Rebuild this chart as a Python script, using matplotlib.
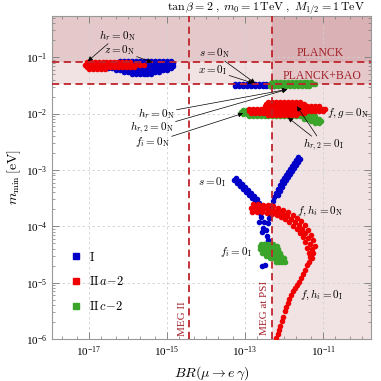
import numpy as np
import matplotlib
matplotlib.use('Agg')
import matplotlib.pyplot as plt
from matplotlib.lines import Line2D
from matplotlib.ticker import LogLocator, NullFormatter

plt.rcParams['mathtext.fontset'] = 'cm'
plt.rcParams['font.family'] = 'Liberation Serif'

# every value is log10(BR) or log10(m_min / eV)
# horizontal bands are stored as rows: one m_min value and the BR values along it

# model I (blue)
I_top_y = [-1.07, -1.11, -1.15, -1.19, -1.23, -1.27, -1.30]
I_top_x = [
    [-16.2, -16.1, -16.0, -15.9, -15.8, -15.7, -15.6, -15.5, -15.4, -15.3, -15.2, -15.1, -15.0, -14.9],
    [-16.6, -16.5, -16.4, -16.3, -16.2, -16.1, -16.0, -15.9, -15.8, -15.7, -15.6, -15.5, -15.4, -15.3,
     -15.2, -15.1, -15.0, -14.9, -14.85],
    [-16.7, -16.6, -16.5, -16.4, -16.3, -16.2, -16.1, -16.0, -15.9, -15.8, -15.7, -15.6, -15.5, -15.4,
     -15.3, -15.2, -15.1, -15.0, -14.9, -14.85],
    [-16.5, -16.4, -16.3, -16.2, -16.1, -16.0, -15.9, -15.8, -15.7, -15.6, -15.5, -15.4, -15.3, -15.2,
     -15.1, -15.0, -14.9],
    [-16.3, -16.2, -16.1, -16.0, -15.9, -15.8, -15.7, -15.6, -15.5, -15.4, -15.3, -15.2, -15.1, -15.0],
    [-16.1, -16.0, -15.9, -15.8, -15.7, -15.6, -15.5, -15.4, -15.3, -15.2],
    [-15.9, -15.8, -15.7, -15.6, -15.5, -15.4],
]
I_bao_y = [-1.48, -1.51]
I_bao_x = [
    [-13.25, -13.15, -13.05, -12.95, -12.85, -12.75, -12.65, -12.55, -12.45, -12.35, -12.25, -12.2],
    [-13.25, -13.15, -13.05, -12.95, -12.85, -12.75, -12.65, -12.55, -12.45, -12.35, -12.25],
]
# blue branches below 1e-3 eV (s = 0_I and the right arm)
I_arm_x = [-13.28, -13.21, -13.13, -13.05, -12.97, -12.90, -12.82, -12.74, -12.69, -12.67, -12.62, -12.59,
           -13.23, -13.15, -13.08, -13.00, -12.92, -12.85, -12.77, -12.69, -12.64, -12.59,
           -12.64, -12.51, -12.54, -12.46, -12.56, -12.44, -12.41, -12.49, -12.41, -12.46, -12.49, -12.56,
           -11.64, -11.69, -11.74, -11.79, -11.85, -11.90, -11.95, -12.00, -12.05, -12.10, -12.15, -12.21,
           -12.26, -12.28, -12.31, -12.33, -12.36, -12.38, -12.41,
           -11.59, -11.64, -11.69, -11.74, -11.79, -11.85, -11.90, -11.95, -12.00, -12.05, -12.10, -12.15]
I_arm_y = [-3.185, -3.238, -3.291, -3.345, -3.398, -3.451, -3.504, -3.558, -3.629, -3.700, -3.771, -3.842,
           -3.149, -3.203, -3.256, -3.309, -3.362, -3.416, -3.469, -3.522, -3.593, -3.664,
           -3.931, -3.931, -4.037, -4.073, -4.108, -4.179, -4.250, -4.304, -4.410, -4.460, -4.694, -4.712,
           -2.776, -2.829, -2.883, -2.936, -2.989, -3.043, -3.096, -3.149, -3.203, -3.274, -3.345, -3.416,
           -3.487, -3.558, -3.629, -3.700, -3.771, -3.860, -3.948,
           -2.812, -2.865, -2.918, -2.972, -3.025, -3.078, -3.131, -3.185, -3.238, -3.309, -3.380, -3.451]

# model II c-2 (green)
IIc_bao_y = [-1.44, -1.475, -1.51]
IIc_bao_x = [
    [-12.3, -12.2, -12.1, -12.0, -11.9, -11.8, -11.7, -11.6, -11.5, -11.4, -11.3],
    [-12.35, -12.25, -12.15, -12.05, -11.95, -11.85, -11.75, -11.65, -11.55, -11.45, -11.35, -11.25, -11.2],
    [-12.35, -12.25, -12.15, -12.05, -11.95, -11.85, -11.75, -11.65, -11.55, -11.45, -11.35],
]
IIc_band_y = [-1.93, -1.97, -2.01, -2.05, -2.09, -2.13, -2.17]
IIc_band_x = [
    [-13.05, -12.95, -12.85, -12.75, -12.65, -12.55, -12.45, -12.35, -12.25, -12.15, -12.05, -11.95,
     -11.85, -11.75, -11.65, -11.55, -11.45, -11.4],
    [-13.1, -13.0, -12.9, -12.8, -12.7, -12.6, -12.5, -12.4, -12.3, -12.2, -12.1, -12.0, -11.9, -11.8,
     -11.7, -11.6, -11.5, -11.4, -11.3],
    [-13.05, -12.95, -12.85, -12.75, -12.65, -12.55, -12.45, -12.35, -12.25, -12.15, -12.05, -11.95,
     -11.85, -11.75, -11.65, -11.55, -11.45, -11.35, -11.3],
    [-12.9, -12.8, -12.7, -12.6, -12.5, -12.4, -12.3, -12.2, -12.1, -12.0, -11.9, -11.8, -11.7, -11.6,
     -11.5, -11.4, -11.3, -11.2],
    [-11.5, -11.4, -11.3, -11.2, -11.1],
    [-11.3, -11.2, -11.1, -11.05],
    [-11.2, -11.1],
]
IIc_blob_y = [-4.304, -4.357, -4.410, -4.464, -4.517, -4.570, -4.624]
IIc_blob_x = [
    [-12.59, -12.51, -12.44, -12.36, -12.28],
    [-12.62, -12.54, -12.46, -12.38, -12.31, -12.23, -12.18],
    [-12.62, -12.54, -12.46, -12.38, -12.31, -12.23, -12.15],
    [-12.56, -12.49, -12.41, -12.33, -12.26, -12.18, -12.10],
    [-12.46, -12.38, -12.31, -12.23, -12.15, -12.08],
    [-12.36, -12.28, -12.21, -12.13, -12.05, -12.00],
    [-12.21, -12.13, -12.05, -11.97],
]

# model II a-2 (red)
IIa_top_y = [-1.09, -1.13, -1.17, -1.20]
IIa_top_x = [
    [-17.05, -16.95, -16.85, -16.75, -16.65, -16.55, -16.45, -16.35, -16.25, -16.15, -16.05, -15.95],
    [-17.1, -17.0, -16.9, -16.8, -16.7, -16.6, -16.5, -16.4, -16.3, -16.2, -16.1, -16.0, -15.9, -15.8,
     -15.7, -15.6],
    [-17.05, -16.95, -16.85, -16.75, -16.65, -16.55, -16.45, -16.35, -16.25, -16.15, -16.05, -15.95, -15.85],
    [-17.0, -16.9, -16.8, -16.7, -16.6],
]
IIa_band_y = [-1.79, -1.83, -1.87, -1.91, -1.95, -1.99, -2.02]
IIa_band_x = [
    [-12.4, -12.3, -12.2, -12.1, -12.0, -11.9, -11.8, -11.7, -11.6],
    [-12.45, -12.35, -12.25, -12.15, -12.05, -11.95, -11.85, -11.75, -11.65, -11.55, -11.5],
    [-12.5, -12.4, -12.3, -12.2, -12.1, -12.0, -11.9, -11.8, -11.7, -11.6, -11.5, -11.4, -11.3, -11.2,
     -11.1],
    [-12.9, -12.8, -12.7, -12.6, -12.5, -12.4, -12.3, -12.2, -12.1, -12.0, -11.9, -11.8, -11.7, -11.6,
     -11.5, -11.4, -11.3, -11.2, -11.1, -11.0, -10.95],
    [-12.9, -12.8, -12.7, -12.6, -12.5, -12.4, -12.3, -12.2, -12.1, -12.0, -11.9, -11.8, -11.7, -11.6,
     -11.5, -11.4, -11.3, -11.2, -11.1, -11.0],
    [-12.85, -12.75, -12.65, -12.55, -12.45, -12.35, -12.25, -12.15, -12.05, -11.95, -11.85, -11.75,
     -11.65, -11.55, -11.5],
    [-12.4, -12.3, -12.2, -12.1, -12.0, -11.9, -11.8, -11.7],
]
# f, h_i = 0 arc: upper thick part and lower thin tail
IIa_arc_x = [-12.85, -12.74, -12.64, -12.54, -12.44, -12.33, -12.23, -12.13, -12.03, -11.92, -11.82,
             -11.72, -11.62, -11.54, -11.46, -11.38, -11.33, -11.28, -11.26, -11.28,
             -12.79, -12.67, -12.54, -12.41, -12.28, -12.15, -12.03, -11.90, -11.77, -11.67, -11.56,
             -11.46, -11.38, -11.31, -11.26, -11.21,
             -12.82, -12.69, -12.56, -12.44, -12.31, -12.18, -12.08, -11.97, -11.87, -11.77, -11.67,
             -11.59, -11.51, -11.46, -11.41, -11.36, -11.33,
             -11.31, -11.36, -11.41, -11.46, -11.51, -11.56, -11.62, -11.67, -11.72, -11.77, -11.82,
             -11.87, -11.90, -11.95, -11.97, -12.03, -12.05, -12.10, -12.13, -12.15, -12.21]
IIa_arc_y = [-3.682, -3.682, -3.682, -3.682, -3.700, -3.718, -3.735, -3.753, -3.789, -3.824, -3.877,
             -3.931, -3.984, -4.055, -4.126, -4.215, -4.304, -4.393, -4.481, -4.570,
             -3.611, -3.611, -3.620, -3.629, -3.647, -3.673, -3.709, -3.753, -3.806, -3.860, -3.913,
             -3.984, -4.073, -4.162, -4.250, -4.357,
             -3.753, -3.753, -3.753, -3.771, -3.789, -3.806, -3.842, -3.877, -3.931, -4.002, -4.055,
             -4.126, -4.197, -4.286, -4.375, -4.464, -4.535,
             -4.570, -4.641, -4.694, -4.766, -4.837, -4.908, -4.979, -5.032, -5.085, -5.139, -5.210,
             -5.281, -5.352, -5.423, -5.494, -5.600, -5.671, -5.760, -5.831, -5.902, -5.973]

planck = 0.083
planck_bao = 0.034
meg_psi = 4.9e-13
meg_2 = 3.6e-15


def flatten(rows_y, rows_x):
    xs, ys = [], []
    for y, row in zip(rows_y, rows_x):
        xs += row
        ys += [y] * len(row)
    return xs, ys


fig = plt.figure(figsize=(3.81, 3.81), dpi=100)
ax = fig.add_axes([0.136, 0.110, 0.838, 0.848])
xmin, xmax = 10**-17.95, 10**-9.77
ymin, ymax = 1e-6, 0.54

shade = (0.59, 0.12, 0.16)
ax.fill_between([xmin, xmax], planck_bao, ymax, color=shade, alpha=0.13, lw=0, zorder=0)
ax.fill_between([xmin, xmax], planck, ymax, color=shade, alpha=0.13, lw=0, zorder=0)
ax.fill_between([meg_psi, xmax], ymin, ymax, color=shade, alpha=0.13, lw=0, zorder=0)

cols = {'I': '#0000c8', 'IIa': '#f00000', 'IIc': '#3aa52a'}
groups = [
    ('I', [flatten(I_top_y, I_top_x), flatten(I_bao_y, I_bao_x), (I_arm_x, I_arm_y)]),
    ('IIc', [flatten(IIc_bao_y, IIc_bao_x), flatten(IIc_band_y, IIc_band_x), flatten(IIc_blob_y, IIc_blob_x)]),
    ('IIa', [flatten(IIa_top_y, IIa_top_x), flatten(IIa_band_y, IIa_band_x), (IIa_arc_x, IIa_arc_y)]),
]
for key, parts in groups:
    for xs, ys in parts:
        ax.scatter(10**np.array(xs), 10**np.array(ys), s=16, color=cols[key], lw=0, zorder=3)

lc = '#c0232b'
for yv in (planck, planck_bao):
    ax.axhline(yv, color=lc, ls=(0, (4, 2.5)), lw=1.3, zorder=4)
for xv in (meg_psi, meg_2):
    ax.axvline(xv, color=lc, ls=(0, (4, 2.5)), lw=1.3, zorder=4)

tc = '#a3222b'
ax.text(10**-11.08, 10**-0.93, 'PLANCK', color=tc, fontsize=8.5, ha='center', va='center')
ax.text(10**-11.03, 10**-1.34, 'PLANCK+BAO', color=tc, fontsize=8.5, ha='center', va='center')
ax.text(10**-14.59, 10**-5.64, 'MEG II', color=tc, fontsize=8, ha='center', va='center', rotation=90)
ax.text(10**-12.51, 10**-5.44, 'MEG at PSI', color=tc, fontsize=8, ha='center', va='center', rotation=90)

aprops = dict(arrowstyle='-|>', color='k', lw=0.5, mutation_scale=7, shrinkA=1, shrinkB=0)
notes = [
    (r'$h_r = 0_{\rm N}$', (-16.26, -0.61), [(-17.03, -1.07)]),
    (r'$z = 0_{\rm N}$', (-16.21, -0.876), [(-15.38, -1.09)]),
    (r'$s = 0_{\rm N}$', (-13.79, -0.93), [(-12.74, -1.46)]),
    (r'$x = 0_{\rm I}$', (-13.82, -1.23), [(-12.79, -1.46)]),
    (r'$h_r = 0_{\rm N}$', (-15.26, -1.995), [(-11.92, -1.57)]),
    (r'$h_{r,2} = 0_{\rm N}$', (-15.38, -2.26), [(-11.92, -1.57)]),
    (r'$f_i = 0_{\rm N}$', (-15.36, -2.51), [(-13.05, -1.995)]),
    (r'$f, g = 0_{\rm N}$', (-10.36, -2.0), []),
    (r'$h_{r,2} = 0_{\rm I}$', (-11.0, -2.56), [(-11.67, -1.87), (-11.90, -2.07)]),
    (r'$s = 0_{\rm I}$', (-13.85, -3.22), []),
    (r'$f, h_i = 0_{\rm N}$', (-11.08, -3.72), []),
    (r'$f_i = 0_{\rm I}$', (-13.23, -4.45), []),
    (r'$f, h_i = 0_{\rm I}$', (-11.03, -5.21), []),
]
for txt, (tx, ty), targets in notes:
    t = ax.text(10**tx, 10**ty, txt, fontsize=8, ha='center', va='center', zorder=5)
    for px, py in targets:
        ax.annotate('', xy=(10**px, 10**py), xytext=(0.5, 0.5), textcoords=t,
                    arrowprops=dict(aprops, patchA=t), zorder=5)

ax.set_xscale('log')
ax.set_yscale('log')
ax.set_xlim(xmin, xmax)
ax.set_ylim(ymin, ymax)
ax.set_xticks([1e-17, 1e-15, 1e-13, 1e-11])
ax.xaxis.set_minor_locator(LogLocator(base=10, subs=(1.0, 2.0, 5.0), numticks=50))
ax.xaxis.set_minor_formatter(NullFormatter())
ax.set_yticks([1e-6, 1e-5, 1e-4, 1e-3, 1e-2, 1e-1])
ax.yaxis.set_minor_locator(LogLocator(base=10, subs=np.arange(2, 10), numticks=50))
ax.yaxis.set_minor_formatter(NullFormatter())
ax.tick_params(which='both', direction='in', top=True, right=True, color='#777777', labelsize=8)
ax.tick_params(which='major', length=5, width=0.6)
ax.tick_params(which='minor', length=2.5, width=0.5)
for sp in ax.spines.values():
    sp.set_color('#999999')
    sp.set_linewidth(0.8)
ax.grid(True, which='major', ls=(0, (3, 3)), color='#d0d0d0', lw=0.6, zorder=1)

ax.set_xlabel(r'$BR(\mu \to e\,\gamma)$', fontsize=10)
ax.set_ylabel(r'$m_{\rm min}\,[\mathrm{eV}]$', fontsize=10, labelpad=2)
fig.text(0.958, 0.978, r'$\tan\beta = 2\;,\;m_0 = 1\,\mathrm{TeV}\;,\;M_{1/2} = 1\,\mathrm{TeV}$',
         fontsize=8.6, ha='right', va='center')

handles = [Line2D([], [], ls='', marker='s', ms=4, color=cols[k]) for k in ('I', 'IIa', 'IIc')]
ax.legend(handles, [r'$\mathrm{I}$', r'$\mathrm{II}\,a\!-\!2$', r'$\mathrm{II}\,c\!-\!2$'],
          loc='lower left', bbox_to_anchor=(0.02, 0.045), frameon=False, fontsize=9,
          labelspacing=0.95, handletextpad=0.6, handlelength=1.0)

plt.savefig('out.png', dpi=100)
